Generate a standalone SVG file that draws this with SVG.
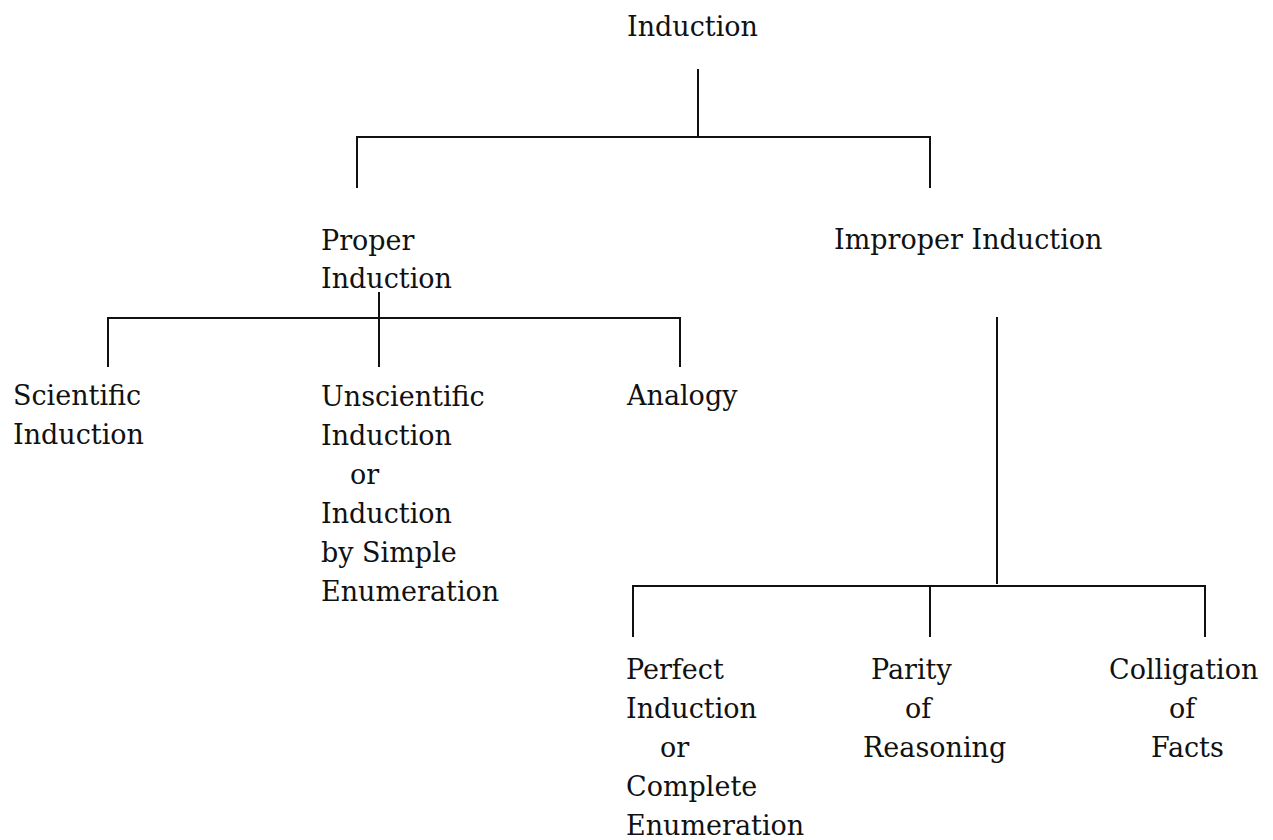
<svg xmlns="http://www.w3.org/2000/svg" width="1273" height="840" viewBox="0 0 1273 840">
<style>
text { font-family: "DejaVu Serif", "Liberation Serif", serif; font-size: 27px; fill: #111; }
.c line { stroke: #111; stroke-width: 2; }
</style>
<rect width="1273" height="840" fill="#fff"/>
<g class="c" id="connectors">
<line x1="698" y1="69" x2="698" y2="138"/>
<line x1="356" y1="137" x2="931" y2="137"/>
<line x1="357" y1="137" x2="357" y2="188"/>
<line x1="930" y1="137" x2="930" y2="188"/>
<line x1="379" y1="292" x2="379" y2="367"/>
<line x1="107" y1="318" x2="681" y2="318"/>
<line x1="108" y1="318" x2="108" y2="367"/>
<line x1="680" y1="318" x2="680" y2="367"/>
<line x1="997" y1="317" x2="997" y2="584"/>
<line x1="632" y1="586" x2="1206" y2="586"/>
<line x1="633" y1="586" x2="633" y2="637"/>
<line x1="930" y1="586" x2="930" y2="637"/>
<line x1="1205" y1="586" x2="1205" y2="637"/>
</g>
<g id="induction"><text x="627" y="36">Induction</text></g>
<g id="proper"><text x="321" y="250">Proper</text><text x="321" y="288">Induction</text></g>
<g id="improper"><text x="834" y="249">Improper Induction</text></g>
<g id="scientific"><text x="13" y="405">Scientific</text><text x="13" y="444">Induction</text></g>
<g id="unscientific">
<text x="321" y="406">Unscientific</text>
<text x="321" y="445">Induction</text>
<text x="350" y="484">or</text>
<text x="321" y="523">Induction</text>
<text x="321" y="562">by Simple</text>
<text x="321" y="601">Enumeration</text>
</g>
<g id="analogy"><text x="627" y="405">Analogy</text></g>
<g id="perfect">
<text x="626" y="679">Perfect</text>
<text x="626" y="718">Induction</text>
<text x="660" y="757">or</text>
<text x="626" y="796">Complete</text>
<text x="626" y="835">Enumeration</text>
</g>
<g id="parity">
<text x="871" y="679">Parity</text>
<text x="905" y="718">of</text>
<text x="863" y="757">Reasoning</text>
</g>
<g id="colligation">
<text x="1109" y="679">Colligation</text>
<text x="1169" y="718">of</text>
<text x="1151" y="757">Facts</text>
</g>
</svg>
